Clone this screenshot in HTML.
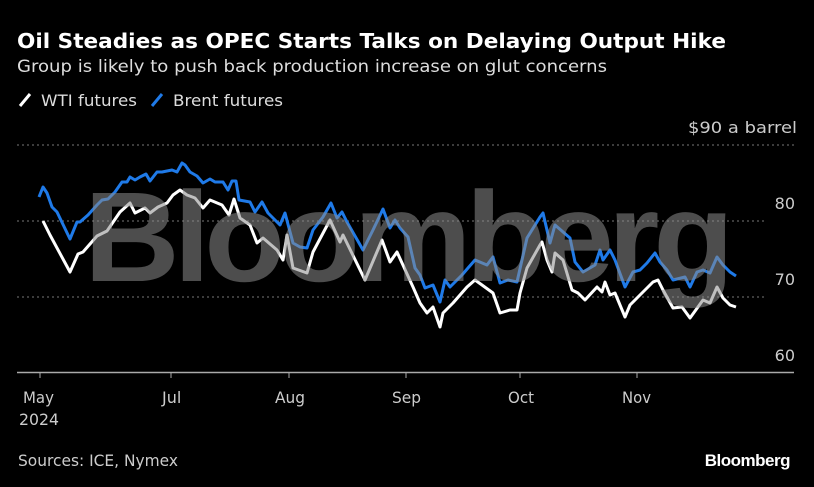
<!DOCTYPE html>
<html><head><meta charset="utf-8"><style>
html,body{margin:0;padding:0;background:#000;}
body{width:814px;height:487px;overflow:hidden;position:relative;}
</style></head><body>
<svg width="814" height="487" xmlns="http://www.w3.org/2000/svg" style="position:absolute;left:0;top:0">
<rect width="814" height="487" fill="#000"/>
<text x="17" y="48" fill="#fff" font-family="DejaVu Sans, sans-serif" font-weight="bold" font-size="20" textLength="709" lengthAdjust="spacingAndGlyphs">Oil Steadies as OPEC Starts Talks on Delaying Output Hike</text>
<text x="17" y="72" fill="#ddd" font-family="DejaVu Sans, sans-serif" font-size="16.5" textLength="590" lengthAdjust="spacingAndGlyphs">Group is likely to push back production increase on glut concerns</text>
<line x1="20" y1="106" x2="30" y2="94" stroke="#fff" stroke-width="3"/>
<text x="41" y="106" fill="#ddd" font-family="DejaVu Sans, sans-serif" font-size="16" textLength="96" lengthAdjust="spacingAndGlyphs">WTI futures</text>
<line x1="152" y1="106" x2="162" y2="94" stroke="#1f7ae8" stroke-width="3"/>
<text x="173" y="106" fill="#ddd" font-family="DejaVu Sans, sans-serif" font-size="16" textLength="110" lengthAdjust="spacingAndGlyphs">Brent futures</text>
<g stroke="#777" stroke-width="1" stroke-dasharray="2,3">
<line x1="17" y1="145" x2="797" y2="145"/>
<line x1="17" y1="221" x2="764" y2="221"/>
<line x1="17" y1="297" x2="764" y2="297"/>
</g>
<g fill="#ccc" font-family="DejaVu Sans, sans-serif" font-size="16" text-anchor="end">
<text x="797" y="133" textLength="109" lengthAdjust="spacingAndGlyphs">$90 a barrel</text>
<text x="795" y="209">80</text>
<text x="795" y="285">70</text>
<text x="795" y="361">60</text>
</g>
<line x1="17" y1="372.5" x2="794" y2="372.5" stroke="#aaa" stroke-width="1.5"/>
<g stroke="#aaa" stroke-width="1"><line x1="40" y1="372" x2="40" y2="378"/><line x1="171" y1="372" x2="171" y2="378"/><line x1="289" y1="372" x2="289" y2="378"/><line x1="406" y1="372" x2="406" y2="378"/><line x1="520" y1="372" x2="520" y2="378"/><line x1="637" y1="372" x2="637" y2="378"/></g>
<g fill="#ccc" font-family="DejaVu Sans, sans-serif" font-size="16">
<text x="23" y="403" textLength="31" lengthAdjust="spacingAndGlyphs">May</text><text x="162" y="403">Jul</text><text x="275" y="403" textLength="30" lengthAdjust="spacingAndGlyphs">Aug</text><text x="392" y="403" textLength="29" lengthAdjust="spacingAndGlyphs">Sep</text><text x="508" y="403" textLength="26" lengthAdjust="spacingAndGlyphs">Oct</text><text x="622" y="403" textLength="29" lengthAdjust="spacingAndGlyphs">Nov</text>
<text x="19" y="425" textLength="40" lengthAdjust="spacingAndGlyphs">2024</text>
<text x="18" y="466" textLength="160" lengthAdjust="spacingAndGlyphs">Sources: ICE, Nymex</text>
</g>
<text x="790" y="466" text-anchor="end" fill="#fff" font-family="Liberation Sans, sans-serif" font-weight="bold" font-size="17" letter-spacing="-0.5">Bloomberg</text>
<polyline fill="none" stroke="#1f7ae8" stroke-width="3" stroke-linejoin="round" points="39,197 43,187 47,193 52,207 57,212 70,239 77,222 80,222 88,215 97,205 102,200 108,199 115,192 122,182 127,182 130,177 135,180 140,177 146,174 150,181 157,172 162,172 172,170 177,172 182,163 185,165 190,172 197,176 203,183 210,179 215,182 223,182 228,190 232,181 236,181 239,200 250,202 255,212 262,202 268,213 280,225 285,213 293,243 300,247 307,248 313,230 323,217 331,203 337,218 342,212 347,222 363,250 373,230 383,209 390,228 395,220 400,228 408,237 415,268 420,275 425,288 433,285 440,302 445,280 450,287 462,275 468,268 475,260 487,265 493,257 500,283 508,280 517,282 527,238 540,217 543,213 550,243 555,225 570,238 575,262 583,272 595,265 600,250 603,260 610,250 615,260 625,287 633,272 640,270 647,263 655,253 660,262 667,270 673,280 685,277 690,287 697,272 703,270 710,273 717,257 723,265 730,272 736,276"/>
<polyline fill="none" stroke="#fff" stroke-width="3" stroke-linejoin="round" points="43,221 50,235 70,272 78,254 83,252 97,236 107,231 120,212 130,203 135,213 145,208 150,213 158,207 167,203 173,195 180,190 187,195 195,198 203,208 210,200 222,205 229,215 234,199 240,218 250,225 257,243 263,238 277,250 283,260 287,235 293,268 307,273 313,252 330,220 340,242 343,235 365,280 382,240 390,262 397,252 413,287 420,303 427,313 433,307 440,327 443,313 453,303 467,287 475,280 482,285 493,293 500,313 510,310 517,310 520,293 527,268 540,245 542,242 547,260 552,272 555,253 563,260 572,290 578,293 585,300 597,287 602,292 605,282 610,295 615,293 625,317 630,305 637,298 653,282 658,280 663,290 673,308 682,307 690,318 703,300 710,303 717,287 723,298 730,305 736,307"/>
<text x="84" y="281" fill="rgba(140,140,140,0.55)" font-family="Liberation Sans, sans-serif" font-weight="bold" font-size="128" textLength="644" lengthAdjust="spacingAndGlyphs" letter-spacing="-6">Bloomberg</text>
</svg>
</body></html>
